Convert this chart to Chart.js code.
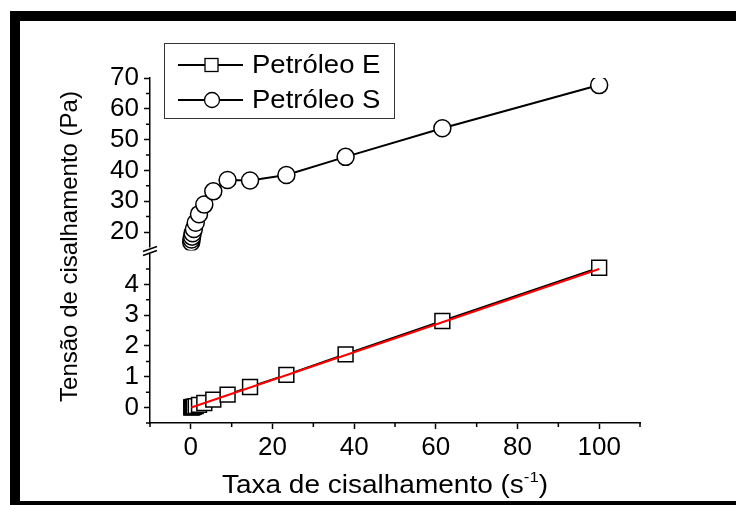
<!DOCTYPE html>
<html>
<head>
<meta charset="utf-8">
<script src="https://cdn.jsdelivr.net/npm/chart.js@4.4.0/dist/chart.umd.min.js"></script>
<style>
  html, body { margin: 0; padding: 0; background: #fff; }
  #wrap { position: relative; width: 736px; height: 505px; overflow: hidden; }
  #frame { position: absolute; left: 10px; top: 11px; width: 726px; height: 494px; box-sizing: border-box;
           border-top: 10px solid #000; border-left: 10px solid #000; border-bottom: 4px solid #000; pointer-events: none; }
  canvas { position: absolute; left: 0; top: 0; }
</style>
</head>
<body>
<div id="wrap">
  <canvas id="myChart" width="736" height="505"></canvas>
  <div id="frame"></div>
</div>
<script>
// shear rate (1/s) and shear stress (Pa) for both oils
const shearRate = [0.1, 0.17, 0.3, 0.45, 0.75, 1.2, 2.0, 3.3, 5.5, 9.0, 14.5, 23.4, 37.9, 61.6, 100];
const stressE = [0.005, 0.008, 0.013, 0.02, 0.03, 0.05, 0.09, 0.15, 0.26, 0.42, 0.67, 1.06, 1.73, 2.81, 4.54];
const stressS = [16.7, 17.6, 18.5, 19.6, 21.0, 23.0, 25.8, 28.9, 33.2, 36.9, 36.7, 38.5, 44.4, 53.7, 67.7];

// linear fit for Petróleo E
const fitX = [0.1, 100];
const fitY = [0.005, 4.5];

const seriesNames = ['Petróleo E', 'Petróleo S'];

const xTicks = [0, 20, 40, 60, 80, 100];
const xMinor = [-10, 10, 30, 50, 70, 90, 110];
const lowTicks = [0, 1, 2, 3, 4];
const lowMinor = [-0.5, 0.5, 1.5, 2.5, 3.5, 4.5];
const highTicks = [20, 30, 40, 50, 60, 70];
const highMinor = [25, 35, 45, 55, 65];

const FONT = '"Liberation Sans", Arial, sans-serif';

const pts = (xs, ys) => xs.map((x, i) => ({ x: x, y: ys[i] }));

const tickFont = { family: FONT, size: 26 };

const decor = {
    id: 'decor',
    afterDraw(chart) {
        const ctx = chart.ctx;
        const sx = chart.scales.x, lo = chart.scales.yLow, hi = chart.scales.yHigh;
        const axX = chart.chartArea.left, axY = chart.chartArea.bottom;
        ctx.save();
        ctx.strokeStyle = '#000';
        ctx.lineWidth = 1.5;
        // minor ticks
        ctx.beginPath();
        xMinor.forEach(v => { const p = sx.getPixelForValue(v); ctx.moveTo(p, axY); ctx.lineTo(p, axY + 4); });
        lowMinor.forEach(v => { const p = lo.getPixelForValue(v); ctx.moveTo(axX, p); ctx.lineTo(axX - 4, p); });
        highMinor.forEach(v => { const p = hi.getPixelForValue(v); ctx.moveTo(axX, p); ctx.lineTo(axX - 4, p); });
        ctx.stroke();

        // axis break
        const by = hi.bottom;
        ctx.fillStyle = '#fff';
        ctx.fillRect(axX - 3, by - 3, 6, 6);
        ctx.beginPath();
        ctx.moveTo(axX - 7, by + 1); ctx.lineTo(axX + 7, by - 4);
        ctx.moveTo(axX - 7, by + 5); ctx.lineTo(axX + 7, by);
        ctx.stroke();

        // axis titles
        ctx.fillStyle = '#000';
        ctx.font = '24px ' + FONT;
        ctx.save();
        ctx.translate(70, (chart.chartArea.top + chart.chartArea.bottom) / 2 - 4);
        ctx.rotate(-Math.PI / 2);
        ctx.textAlign = 'center';
        ctx.textBaseline = 'middle';
        ctx.fillText('Tensão de cisalhamento (Pa)', 0, 0);
        ctx.restore();

        const main = 'Taxa de cisalhamento (s', sup = '-1', close = ')';
        ctx.save();
        ctx.translate(385, 493);
        ctx.scale(1.12, 1);
        ctx.font = '25px ' + FONT;
        const w1 = ctx.measureText(main).width, w3 = ctx.measureText(close).width;
        ctx.font = '15px ' + FONT;
        const w2 = ctx.measureText(sup).width;
        let x0 = -(w1 + w2 + w3) / 2;
        ctx.textBaseline = 'alphabetic';
        ctx.textAlign = 'left';
        ctx.font = '25px ' + FONT;
        ctx.fillText(main, x0, 0);
        ctx.font = '15px ' + FONT;
        ctx.fillText(sup, x0 + w1, -11);
        ctx.font = '25px ' + FONT;
        ctx.fillText(close, x0 + w1 + w2, 0);
        ctx.restore();

        // legend
        ctx.lineWidth = 1;
        ctx.strokeStyle = '#333';
        ctx.strokeRect(164.5, 43.5, 230, 75);
        const rows = [65, 100];
        rows.forEach((ry, i) => {
            const ds = chart.data.datasets[i];
            ctx.strokeStyle = '#000';
            ctx.lineWidth = 2;
            ctx.beginPath();
            ctx.moveTo(178, ry); ctx.lineTo(243, ry);
            ctx.stroke();
            ctx.fillStyle = '#fff';
            ctx.lineWidth = 1.3;
            if (ds.pointStyle === 'rect') {
                ctx.fillRect(205, ry - 6.5, 13, 13);
                ctx.strokeRect(205, ry - 6.5, 13, 13);
            } else {
                ctx.beginPath();
                ctx.arc(212, ry, 7.5, 0, Math.PI * 2);
                ctx.fill(); ctx.stroke();
            }
            ctx.save();
            ctx.translate(252, ry);
            ctx.scale(1.1, 1);
            ctx.fillStyle = '#000';
            ctx.font = '25px ' + FONT;
            ctx.textBaseline = 'middle';
            ctx.textAlign = 'left';
            ctx.fillText(ds.label, 0, 1);
            ctx.restore();
        });
        ctx.restore();
    }
};

const yAxis = (min, max, ticks) => ({
    type: 'linear',
    position: 'left',
    stack: 'y',
    stackWeight: 1,
    min: min,
    max: max,
    afterBuildTicks: s => { s.ticks = ticks.map(v => ({ value: v })); },
    afterFit: s => { s.width = 150; },
    grid: { drawOnChartArea: false, drawTicks: true, tickLength: 6, tickWidth: 1.5, color: '#000' },
    border: { display: true, color: '#000', width: 1.5 },
    ticks: { color: '#000', font: tickFont, padding: 5, autoSkip: false }
});

const canva = document.getElementById('myChart');
const chart = new Chart(canva.getContext('2d'), {
    type: 'line',
    data: {
        datasets: [{
            label: seriesNames[0],
            data: pts(shearRate, stressE),
            yAxisID: 'yLow',
            borderColor: '#000',
            borderWidth: 2,
            pointStyle: 'rect',
            pointRadius: 10.5,
            pointBorderWidth: 1.5,
            pointBorderColor: '#000',
            pointBackgroundColor: '#fff',
            order: 1
        }, {
            label: seriesNames[1],
            data: pts(shearRate, stressS),
            yAxisID: 'yHigh',
            borderColor: '#000',
            borderWidth: 2,
            pointStyle: 'circle',
            pointRadius: 8.5,
            pointBorderWidth: 1.5,
            pointBorderColor: '#000',
            pointBackgroundColor: '#fff',
            order: 2
        }, {
            label: 'fit',
            data: pts(fitX, fitY),
            yAxisID: 'yLow',
            borderColor: '#ff0000',
            borderWidth: 2,
            pointRadius: 0,
            order: 0
        }]
    },
    options: {
        responsive: false,
        animation: false,
        events: [],
        layout: { padding: { top: 78, right: 96, left: 0, bottom: 0 } },
        plugins: { legend: { display: false }, tooltip: { enabled: false } },
        scales: {
            x: {
                type: 'linear',
                min: -10,
                max: 110,
                afterBuildTicks: s => { s.ticks = xTicks.map(v => ({ value: v })); },
                afterFit: s => { s.height = 82; },
                grid: { drawOnChartArea: false, drawTicks: true, tickLength: 6, tickWidth: 1.5, color: '#000' },
                border: { display: true, color: '#000', width: 1.5 },
                ticks: { color: '#000', font: tickFont, padding: 3, maxRotation: 0, autoSkip: false }
            },
            // stacked axes are laid out bottom-up in config order
            yLow: yAxis(-0.5, 5.1, lowTicks),
            yHigh: yAxis(14, 70, highTicks)
        }
    },
    plugins: [decor]
});
</script>
</body>
</html>
